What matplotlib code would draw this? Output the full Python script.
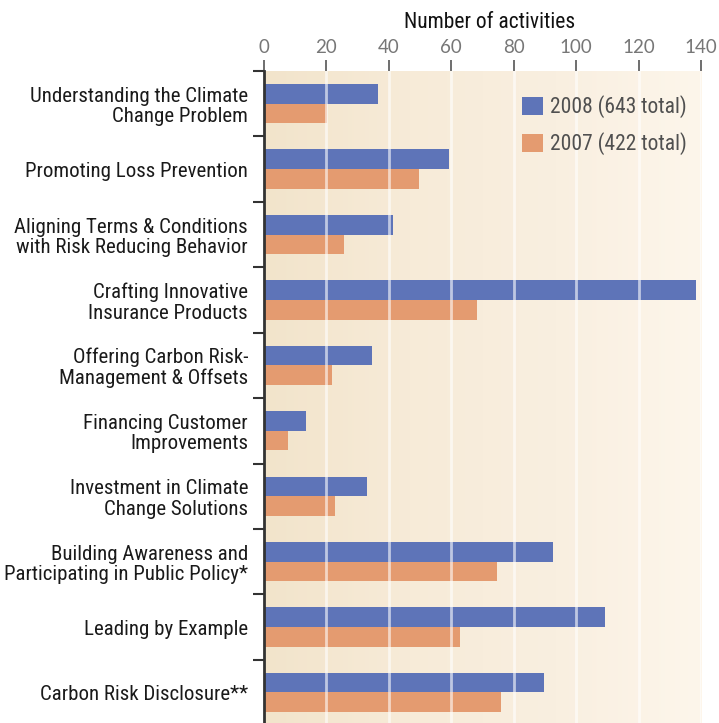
import matplotlib
matplotlib.use("Agg")
import matplotlib.pyplot as plt
from matplotlib.patches import Patch
from matplotlib.colors import LinearSegmentedColormap
import numpy as np

categories = [
    "Understanding the Climate\nChange Problem",
    "Promoting Loss Prevention",
    "Aligning Terms & Conditions\nwith Risk Reducing Behavior",
    "Crafting Innovative\nInsurance Products",
    "Offering Carbon Risk-\nManagement & Offsets",
    "Financing Customer\nImprovements",
    "Investment in Climate\nChange Solutions",
    "Building Awareness and\nParticipating in Public Policy*",
    "Leading by Example",
    "Carbon Risk Disclosure**",
]
values_2008 = [36.5, 59.3, 41.3, 138.4, 34.6, 13.5, 33, 92.6, 109.2, 89.7]
values_2007 = [20.3, 49.6, 25.6, 68.2, 21.8, 7.7, 22.7, 74.6, 62.8, 75.9]
labels = ["2008 (643 total)", "2007 (422 total)"]
xticks = [0, 20, 40, 60, 80, 100, 120, 140]

BLUE = "#5e74b8"
ORANGE = "#e49b70"
NARROW = ["Roboto Condensed", "Liberation Sans Narrow", "Roboto"]

fig = plt.figure(figsize=(7.19, 7.23), dpi=100)
ax = fig.add_axes([0.3672, -0.003, 0.6078, 0.9048])

y = np.arange(len(categories))
h = 0.30

# beige gradient background
cmap = LinearSegmentedColormap.from_list("bg", ["#f2e4cb", "#f7ebd8", "#f9efe0", "#fdf6eb"])
grad = np.linspace(0, 1, 256).reshape(1, -1)
ax.imshow(grad, cmap=cmap, extent=[0, 140, len(categories) - 0.5, -0.5],
          aspect="auto", zorder=0)

ax.barh(y - h / 2, values_2008, height=h, color=BLUE, zorder=2)
ax.barh(y + h / 2, values_2007, height=h, color=ORANGE, zorder=2)

for t in xticks[1:]:
    ax.axvline(t, color="white", lw=2, alpha=0.6, zorder=3)

ax.set_xlim(0, 140)
ax.set_ylim(len(categories) - 0.5, -0.5)

ax.xaxis.tick_top()
ax.xaxis.set_label_position("top")
ax.set_xticks(xticks)
ax.set_xticklabels([str(t) for t in xticks], family="Lato", fontsize=13.5, color="#777777")
ax.tick_params(axis="x", length=8, width=1.2, color="#555555", pad=3)
ax.set_xlabel("Number of activities", family=NARROW, fontsize=15.5, color="#111111")
ax.xaxis.set_label_coords(0.515, 1.066)

ax.set_yticks(y)
ax.set_yticklabels(categories, family=NARROW, fontsize=15, color="#1a1a1a",
                   linespacing=1.1)
ax.tick_params(axis="y", which="major", length=0, pad=11.5)
ax.set_yticks(np.arange(-0.5, len(categories), 1.0), minor=True)
ax.tick_params(axis="y", which="minor", length=8, width=1.5, color="#333333")

for s in ["top", "right", "bottom"]:
    ax.spines[s].set_visible(False)
ax.spines["left"].set_linewidth(2)
ax.spines["left"].set_color("#333333")
ax.spines["left"].set_zorder(4)

handles = [Patch(facecolor=BLUE), Patch(facecolor=ORANGE)]
leg = ax.legend(handles, labels, loc="upper left", bbox_to_anchor=(0.566, 0.979),
                frameon=False, borderpad=0, handlelength=0.95, handleheight=0.95,
                handletextpad=0.35, labelspacing=0.65,
                prop={"family": NARROW, "size": 15.5})
for t in leg.get_texts():
    t.set_color("#505050")

fig.savefig("out.png", dpi=100)
